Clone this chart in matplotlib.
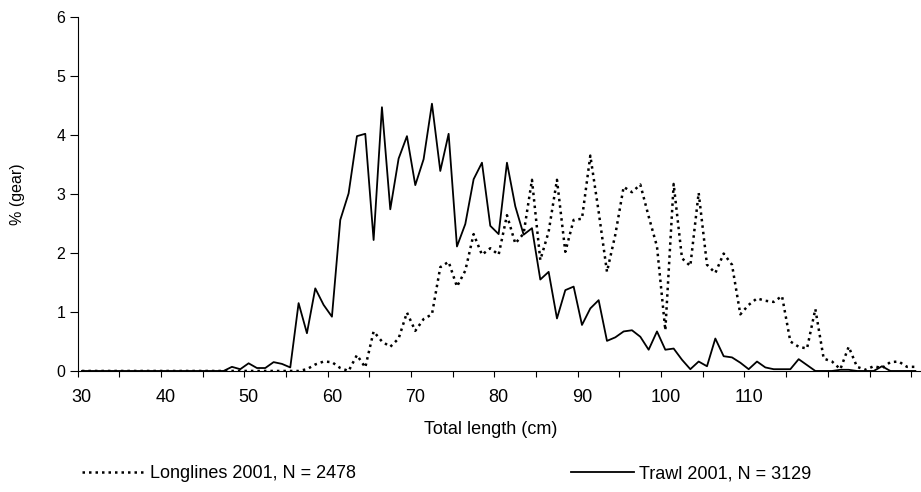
import numpy as np
import matplotlib
matplotlib.use("Agg")
import matplotlib.pyplot as plt

plt.rcParams['font.family'] = ['Liberation Sans', 'DejaVu Sans']

# length classes (cm)
lengths = list(range(30, 131))

# longlines 2001, % by length class
longlines = [0.0] * 27 + [
    0.03, 0.11, 0.16, 0.15, 0.05, 0.0, 0.27, 0.06, 0.67,    # 57-65
    0.50, 0.41, 0.55, 0.99, 0.68, 0.88, 0.96, 1.76, 1.85,    # 66-74
    1.43, 1.70, 2.32, 1.97, 2.08, 1.97, 2.64, 2.16, 2.33,    # 75-83
    3.24, 1.88, 2.36, 3.24, 2.02, 2.56, 2.58, 3.65, 2.70,    # 84-92
    1.68, 2.31, 3.12, 3.03, 3.16, 2.62, 2.11, 0.69, 3.17,    # 93-101
    1.91, 1.78, 3.02, 1.80, 1.66, 1.99, 1.80, 0.96, 1.12,    # 102-110
    1.23, 1.19, 1.17, 1.27, 0.50, 0.41, 0.38, 1.05, 0.21,    # 111-119
    0.16, 0.03, 0.41, 0.07, 0.02, 0.08, 0.05, 0.15, 0.16,    # 120-128
    0.07, 0.07]                                              # 129-130

# trawl 2001, % by length class
trawl = [0.0] * 18 + [
    0.07, 0.03, 0.13, 0.05, 0.05, 0.15, 0.12, 0.06, 1.15,    # 48-56
    0.64, 1.40, 1.12, 0.92, 2.56, 3.01, 3.98, 4.02, 2.22,    # 57-65
    4.47, 2.74, 3.60, 3.98, 3.15, 3.59, 4.53, 3.39, 4.02,    # 66-74
    2.11, 2.49, 3.25, 3.53, 2.46, 2.32, 3.53, 2.79, 2.31,    # 75-83
    2.42, 1.55, 1.68, 0.89, 1.37, 1.43, 0.78, 1.06, 1.20,    # 84-92
    0.51, 0.57, 0.67, 0.69, 0.58, 0.36, 0.67, 0.36, 0.38,    # 93-101
    0.19, 0.03, 0.16, 0.08, 0.55, 0.25, 0.23, 0.14, 0.03,    # 102-110
    0.16, 0.06, 0.03, 0.03, 0.03, 0.20, 0.10, 0.0, 0.0,      # 111-119
    0.0, 0.02, 0.02, 0.0, 0.0, 0.0, 0.08, 0.0, 0.0,          # 120-128
    0.0, 0.0]                                                # 129-130

x_labels = [30, 40, 50, 60, 70, 80, 90, 100, 110]

fig = plt.figure(figsize=(9.21, 4.92), dpi=100)
ax = fig.add_axes([0.0844, 0.246, 0.914, 0.7195])

ax.plot(lengths, longlines, color='black', linewidth=1.8,
        linestyle=(0, (1, 1.6)), label='Longlines 2001, N = 2478')
ax.plot(lengths, trawl, color='black', linewidth=1.3,
        label='Trawl 2001, N = 3129')

ax.set_xlim(29.5, 130.5)
ax.set_ylim(0, 6)

# minor ticks between classes every 5 cm, labels every 10 cm
ax.set_xticks(np.arange(29.5, 131, 5), minor=True)
ax.set_xticks(x_labels)
ax.set_xticklabels([str(v) for v in x_labels])
ax.tick_params(axis='x', which='major', length=0, pad=13, labelsize=13)
ax.tick_params(axis='x', which='minor', length=4.5, width=0.8, direction='out')
ax.set_yticks(range(0, 7))
ax.tick_params(axis='y', length=5.5, width=0.8, direction='out', labelsize=11.5, pad=3.5)

for s in ['top', 'right']:
    ax.spines[s].set_visible(False)
for s in ['left', 'bottom']:
    ax.spines[s].set_linewidth(0.8)

ax.set_xlabel('Total length (cm)', fontsize=13)
ax.xaxis.set_label_coords(0.49, -0.141)
ax.set_ylabel('% (gear)', fontsize=11.5)
ax.yaxis.set_label_coords(-0.063, 0.5)

fig.legend(loc='center left', bbox_to_anchor=(0.089, 0.037), ncol=2,
           frameon=False, fontsize=13, handlelength=3.5, handletextpad=0.28,
           columnspacing=11.9, borderpad=0, borderaxespad=0)

plt.savefig('out.png', dpi=100)
